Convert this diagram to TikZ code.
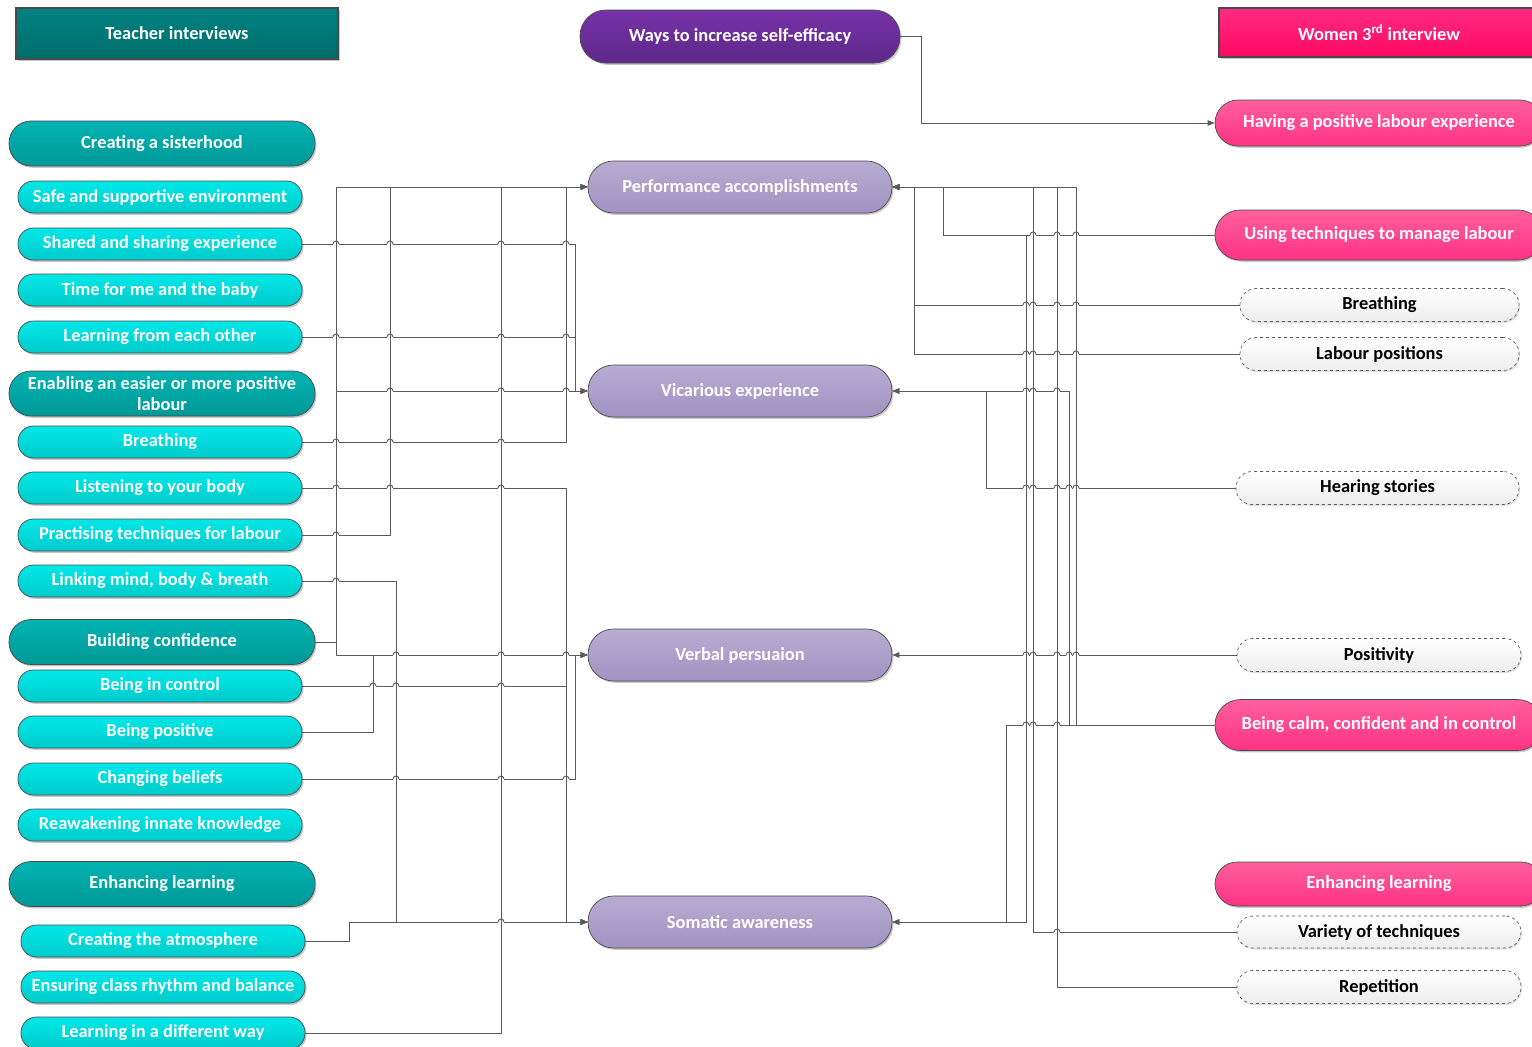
\documentclass[tikz,border=0pt]{standalone}
\usepackage{fontspec}
\setmainfont{Carlito}
\usetikzlibrary{arrows.meta,shadows}

\definecolor{hdteal1}{HTML}{008281}
\definecolor{hdteal2}{HTML}{006D6C}
\definecolor{bigteal1}{HTML}{00B4B2}
\definecolor{bigteal2}{HTML}{009897}
\definecolor{cyan1}{HTML}{00E8E8}
\definecolor{cyan2}{HTML}{00CACB}
\definecolor{purp1}{HTML}{7732A8}
\definecolor{purp2}{HTML}{5E2889}
\definecolor{lav1}{HTML}{B8ACD2}
\definecolor{lav2}{HTML}{A192C2}
\definecolor{hdpink1}{HTML}{FF2C80}
\definecolor{hdpink2}{HTML}{FF0863}
\definecolor{pink1}{HTML}{FF5F9C}
\definecolor{pink2}{HTML}{FF3284}
\definecolor{wire}{HTML}{5A5A5A}
\definecolor{edge}{HTML}{4A4A4A}

\tikzset{
  lbl/.style={font=\fontsize{18.4}{21}\selectfont\bfseries, align=center, inner sep=0pt, text=white},
  shade/.style={drop shadow={shadow xshift=1.5pt, shadow yshift=-1.8pt, opacity=0.22, fill=black}},
  header/.style={lbl, rectangle, draw=edge, line width=2pt, shade},
  tchbox/.style={header, top color=hdteal1, bottom color=hdteal2, minimum width=322pt, minimum height=51pt},
  wombox/.style={header, top color=hdpink1, bottom color=hdpink2, minimum width=320pt, minimum height=49pt},
  bigpill/.style={lbl, draw=edge, line width=0.7pt, rounded corners=22pt, minimum width=306pt, minimum height=45pt,
    top color=bigteal1, bottom color=bigteal2, shade},
  smallpill/.style={lbl, draw=edge, line width=0.7pt, rounded corners=15.5pt, minimum width=284pt, minimum height=32pt,
    top color=cyan1, bottom color=cyan2, shade},
  waysbox/.style={lbl, draw=edge, line width=0.7pt, rounded corners=26pt, minimum width=320pt, minimum height=53pt,
    top color=purp1, bottom color=purp2, shade},
  hubbox/.style={lbl, draw=edge, line width=0.7pt, rounded corners=25.5pt, minimum width=304pt, minimum height=52pt,
    top color=lav1, bottom color=lav2, shade},
  pinkpill/.style={lbl, draw=edge, line width=0.7pt, rounded corners=#1, minimum width=328pt, minimum height=2*#1,
    top color=pink1, bottom color=pink2, shade},
  dashpill/.style={lbl, text=black, draw=edge!90, dashed, line width=0.7pt, rounded corners=16pt, minimum width=283pt,
    minimum height=33pt, top color=white, bottom color=black!7,
    drop shadow={shadow xshift=1pt, shadow yshift=-1.5pt, opacity=0.12, fill=black}},
  wirebase/.style={draw=wire, line width=0.9pt},
  link/.style={wirebase, -{Triangle[length=7pt,width=5.5pt]}},
}

\begin{document}
\begin{tikzpicture}[x=1pt,y=-1pt]
\useasboundingbox (0,0) rectangle (1532,1047);
\clip (0,0) rectangle (1532,1047);

% headers
\node[tchbox] (tch) at (177,33.5) {Teacher interviews};
\node[waysbox] (ways) at (740,36.5) {Ways to increase self-efficacy};
\node[wombox] (wom) at (1379,32.5) {Women 3\textsuperscript{rd} interview};

% teacher themes
\node[bigpill] (sis) at (162,143.5) {Creating a sisterhood};
\node[smallpill] (safe) at (160,197) {Safe and supportive environment};
\node[smallpill] (shared) at (160,244) {Shared and sharing experience};
\node[smallpill] (time) at (160,290) {Time for me and the baby};
\node[smallpill] (learn) at (160,337) {Learning from each other};
\node[bigpill] (enab) at (162,393.5) {Enabling an easier or more positive\\labour};
\node[smallpill] (breL) at (160,442) {Breathing};
\node[smallpill] (listen) at (160,488) {Listening to your body};
\node[smallpill] (pract) at (160,535) {Practising techniques for labour};
\node[smallpill] (link) at (160,581) {Linking mind, body \& breath};
\node[bigpill] (bc) at (162,642) {Building confidence};
\node[smallpill] (ctrl) at (160,686) {Being in control};
\node[smallpill] (posL) at (160,732) {Being positive};
\node[smallpill] (beliefs) at (160,779) {Changing beliefs};
\node[smallpill] (innate) at (160,825) {Reawakening innate knowledge};
\node[bigpill] (enhL) at (162,884) {Enhancing learning};
\node[smallpill] (atmos) at (163,941) {Creating the atmosphere};
\node[smallpill] (rhythm) at (163,987) {Ensuring class rhythm and balance};
\node[smallpill] (diff) at (163,1033) {Learning in a different way};

% sources of self-efficacy
\node[hubbox] (pa) at (740,187) {Performance accomplishments};
\node[hubbox] (ve) at (740,391) {Vicarious experience};
\node[hubbox] (vp) at (740,655) {Verbal persuaion};
\node[hubbox] (sa) at (740,922) {Somatic awareness};

% women themes
\node[pinkpill=23pt] (having) at (1379,123) {Having a positive labour experience};
\node[pinkpill=25pt] (using) at (1379,235) {Using techniques to manage labour};
\node[dashpill, minimum width=279pt] (breR) at (1379.5,305) {Breathing};
\node[dashpill, minimum width=279pt] (labpos) at (1379.5,354) {Labour positions};
\node[dashpill] (hearing) at (1377.5,488) {Hearing stories};
\node[dashpill, minimum width=284pt] (positivity) at (1379,655) {Positivity};
\node[pinkpill=25.5pt] (calm) at (1379,725) {Being calm, confident and in control};
\node[pinkpill=22pt] (enhR) at (1379,884) {Enhancing learning};
\node[dashpill, minimum width=284pt, minimum height=32pt] (variety) at (1379,932) {Variety of techniques};
\node[dashpill, minimum width=284pt] (rep) at (1379,987) {Repetition};

% routing columns
\foreach \c in {336,349,373,390,396,501,566,575,914,921,943,986,1006,1026,1033,1057,1069,1076}
  \coordinate (c\c) at (\c,0);

% teacher themes to sources
\draw[link] (bc.east) -| (c336 |- pa.west) -- (pa.west);
\draw[link] (bc.east) -| (c336 |- ve.west) -- (ve.west);
\draw[link] (bc.east) -| (c336 |- vp.west) -- (vp.west);
\draw[link] (pract.east) -| (c390 |- pa.west) -- (pa.west);
\draw[link] (diff.east) -| (c501 |- pa.west) -- (pa.west);
\draw[link] (breL.east) -| (c566 |- pa.west) -- (pa.west);
\draw[link] (shared.east) -| (c575 |- ve.west) -- (ve.west);
\draw[link] (learn.east) -| (c575 |- ve.west) -- (ve.west);
\draw[link] (posL.east) -| (c373 |- vp.west) -- (vp.west);
\draw[link] (beliefs.east) -| (c575 |- vp.west) -- (vp.west);
\draw[link] (listen.east) -| (c566 |- sa.west) -- (sa.west);
\draw[link] (ctrl.east) -| (c566 |- sa.west) -- (sa.west);
\draw[link] (link.east) -| (c396 |- sa.west) -- (sa.west);
\draw[link] (atmos.east) -| (c349 |- sa.west) -- (sa.west);

% women themes to sources
\draw[link] (using.west) -| (c943 |- pa.east) -- (pa.east);
\draw[link] (breR.west) -| (c914 |- pa.east) -- (pa.east);
\draw[link] (labpos.west) -| (c914 |- pa.east) -- (pa.east);
\draw[link] (calm.west) -| (c1076 |- pa.east) -- (pa.east);
\draw[link] (variety.west) -| (c1033 |- pa.east) -- (pa.east);
\draw[link] (rep.west) -| (c1057 |- pa.east) -- (pa.east);
\draw[link] (hearing.west) -| (c986 |- ve.east) -- (ve.east);
\draw[link] (calm.west) -| (c1069 |- ve.east) -- (ve.east);
\draw[link] (positivity.west) -- (vp.east);
\draw[link] (calm.west) -| (c1006 |- sa.east) -- (sa.east);
\draw[link] (using.west) -| (c1026 |- sa.east) -- (sa.east);

% overall aim
\draw[link] (ways.east) -| (c921 |- having.west) -- (having.west);

% line hops where a horizontal run crosses a vertical one
\foreach \x/\y in {336/244,390/244,501/244,566/244,
                   336/337,390/337,501/337,566/337,
                   390/391,501/391,566/391,
                   336/442,390/442,501/442,
                   336/488,390/488,501/488,
                   336/535,336/581,
                   396/655,501/655,566/655,
                   373/686,396/686,501/686,
                   396/779,501/779,566/779,
                   501/922,
                   1033/235,1057/235,1076/235,
                   1026/305,1033/305,1057/305,1076/305,
                   1026/354,1033/354,1057/354,1076/354,
                   1026/391,1033/391,1057/391,
                   1026/488,1033/488,1057/488,1069/488,1076/488,
                   1026/655,1033/655,1057/655,1069/655,1076/655,
                   1026/725,1033/725,1057/725,
                   1057/932}{
  \fill[white] (\x-3.4,\y-1.3) rectangle (\x+3.4,\y+1.3);
  \draw[wirebase] (\x,\y-2) -- (\x,\y+2);
  \draw[wirebase] (\x-3,\y) arc[start angle=180,end angle=360,radius=3];
}
\end{tikzpicture}
\end{document}
